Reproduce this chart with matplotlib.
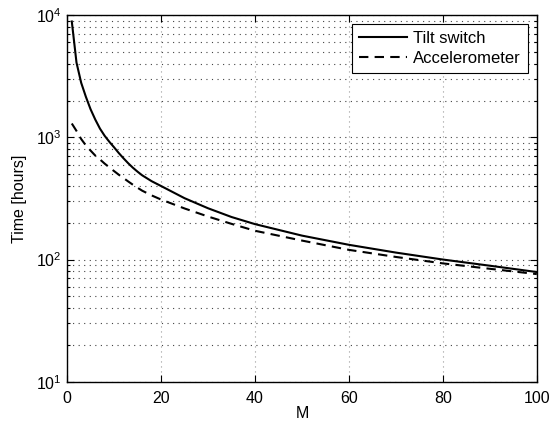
import matplotlib
matplotlib.use("Agg")
import matplotlib.pyplot as plt
from matplotlib.ticker import LogLocator, NullFormatter

plt.rcParams['font.family'] = ['Liberation Sans', 'DejaVu Sans']
plt.rcParams['mathtext.fontset'] = 'custom'
plt.rcParams['mathtext.rm'] = 'Liberation Sans'
plt.rcParams['mathtext.it'] = 'Liberation Sans'
plt.rcParams['font.size'] = 11

M = [1, 2, 3, 4, 5, 6, 7, 8, 9, 10, 11, 12, 13, 14, 15, 16, 18, 20, 25, 30, 35, 40,
     50, 60, 70, 80, 90, 100]
tilt_switch = [8900, 4100, 2800, 2150, 1700, 1400, 1180, 1030, 920, 830, 745, 675, 615,
               565, 524, 489, 438, 400, 318, 263, 223, 195, 157, 132, 114, 100, 89, 79]
accelerometer = [1300, 1130, 970, 860, 780, 710, 660, 610, 568, 530, 495, 465, 436,
                 410, 387, 366, 335, 310, 262, 225, 196, 172, 143, 120, 105, 93, 84, 76]

x_ticks = [0, 20, 40, 60, 80, 100]
y_ticks = [1e1, 1e2, 1e3, 1e4]
y_tick_labels = [r'$10^{1}$', r'$10^{2}$', r'$10^{3}$', r'$10^{4}$']

fig = plt.figure(figsize=(5.5, 4.25), dpi=100)
ax = fig.add_axes([0.122, 0.102, 0.854, 0.862])

ax.plot(M, tilt_switch, '-', color='black', lw=1.5, label='Tilt switch')
ax.plot(M, accelerometer, '--', color='black', lw=1.5, dashes=(4.5, 3), label='Accelerometer')

ax.set_yscale('log')
ax.set_xlim(0, 100)
ax.set_ylim(10, 1e4)
ax.set_xticks(x_ticks)
ax.set_yticks(y_ticks)
ax.set_yticklabels(y_tick_labels)
ax.yaxis.set_minor_locator(LogLocator(base=10, subs=range(2, 10)))
ax.yaxis.set_minor_formatter(NullFormatter())

ax.grid(True, which='major', axis='x', linestyle=(0, (1, 3.5)), color='#999999', lw=0.8)
ax.grid(True, which='major', axis='y', linestyle=(0, (1, 4)), color='#444444', lw=0.8)
ax.grid(True, which='minor', axis='y', linestyle=(0, (1, 4)), color='#444444', lw=0.8)

ax.tick_params(which='both', direction='in', top=True, right=True, labelsize=11.5, width=0.8)
ax.tick_params(which='major', length=5)
ax.tick_params(which='minor', length=2.5)
ax.tick_params(axis='x', which='major', pad=7)
ax.tick_params(axis='y', which='major', pad=4)
for s in ax.spines.values():
    s.set_linewidth(1.0)

ax.set_xlabel('M', fontsize=11.5, labelpad=0)
ax.set_ylabel('Time [hours]', fontsize=11.5, labelpad=6)

leg = ax.legend(loc='upper right', fancybox=False, framealpha=1, edgecolor='black',
                fontsize=12, handlelength=2.9, borderpad=0.4, labelspacing=0.3,
                handletextpad=0.35, borderaxespad=0.55)
leg.get_frame().set_linewidth(0.8)

fig.savefig('out.png', dpi=100)
